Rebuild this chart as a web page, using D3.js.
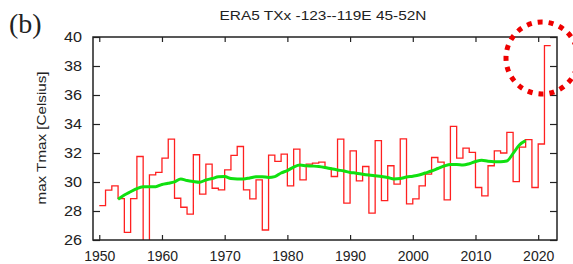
<!DOCTYPE html>
<html><head><meta charset="utf-8">
<script src="https://cdn.jsdelivr.net/npm/d3@7"></script>
<style>body{margin:0;background:#fff}svg{display:block}</style>
</head><body><svg id="c" width="573" height="264"></svg>
<script>
const title = "ERA5 TXx -123--119E 45-52N";
const yLabel = "max Tmax [Celsius]";
const panelLabel = "(b)";
const xTicks = [1950,1960,1970,1980,1990,2000,2010,2020];
const yTicks = [26,28,30,32,34,36,38,40];
const startYear = 1950;
const txx = [28.37,29.44,29.73,28.86,26.53,28.86,31.76,25.5,30.49,30.66,
  31.65,32.96,28.88,28.26,27.78,31.88,29.16,31.23,29.57,29.46,
  30.84,31.83,32.45,29.46,28.84,30.15,26.69,31.85,31.42,31.92,
  29.73,32.27,30.15,31.23,31.30,31.37,30.96,30.38,32.96,28.54,
  32.15,30.08,31.07,27.85,32.85,28.72,31.12,29.85,32.98,28.49,
  28.84,29.73,30.54,31.69,31.37,28.77,33.84,31.65,32.34,32.04,
  29.62,29.04,31.12,32.15,32.00,33.42,30.03,32.41,32.92,29.62,
  32.62,39.4];
const smoothStart = 1953;
const smooth = [28.81,29.10,29.33,29.55,29.67,29.68,29.68,29.83,29.91,30.01,
  30.21,30.10,30.03,29.98,30.14,30.24,30.36,30.38,30.24,30.21,
  30.21,30.28,30.36,30.37,30.31,30.37,30.62,30.79,31.03,31.17,
  31.12,31.10,31.07,31.00,30.91,30.83,30.76,30.66,30.61,30.54,
  30.48,30.43,30.38,30.31,30.21,30.24,30.34,30.40,30.48,30.62,
  30.76,30.93,31.10,31.21,31.21,31.17,31.26,31.41,31.50,31.43,
  31.40,31.40,31.45,31.97,32.55,32.85];

const svg = d3.select("#c");
const L=93,R=557,T=37,B=240;
const x = d3.scaleLinear().domain([1949,2023]).range([L,R]);
const y = d3.scaleLinear().domain([26,40]).range([B,T]);

svg.append("defs").append("clipPath").attr("id","clip")
  .append("rect").attr("x",L).attr("y",T).attr("width",R-L).attr("height",B-T);

const font = "'Liberation Sans', Arial, sans-serif";

function styleAxis(g){ g.select(".domain").remove(); g.selectAll("line").attr("stroke","#222").attr("stroke-width",1.2); }
svg.append("g").attr("transform",`translate(0,${B})`)
  .call(d3.axisBottom(x).tickValues(xTicks).tickFormat(d3.format("d")).tickSizeInner(-5).tickSizeOuter(0).tickPadding(10))
  .call(styleAxis)
  .call(g=>g.selectAll("text").attr("font-family",font).attr("font-size",14).attr("fill","#222").attr("y",11).attr("dy","0.71em"));
svg.append("g").attr("transform",`translate(0,${T})`)
  .call(d3.axisTop(x).tickValues(xTicks).tickFormat("").tickSizeInner(-5).tickSizeOuter(0))
  .call(styleAxis);
svg.append("g").attr("transform",`translate(${L},0)`)
  .call(d3.axisLeft(y).tickValues(yTicks).tickFormat(d3.format("d")).tickSizeInner(-7).tickSizeOuter(0))
  .call(styleAxis)
  .call(g=>g.selectAll("text").attr("font-family",font).attr("font-size",14).attr("fill","#222").attr("x",-11)
     .attr("textLength",18).attr("lengthAdjust","spacingAndGlyphs"));
svg.append("g").attr("transform",`translate(${R},0)`)
  .call(d3.axisRight(y).tickValues(yTicks).tickFormat("").tickSizeInner(-7).tickSizeOuter(0))
  .call(styleAxis);

const stepData = txx.map((v,i)=>[startYear+i,v]);
stepData.push([startYear+txx.length, txx[txx.length-1]]);
svg.append("path").datum(stepData).attr("clip-path","url(#clip)")
  .attr("fill","none").attr("stroke","#ff2020").attr("stroke-width",1.3)
  .attr("d", d3.line().x(d=>x(d[0])).y(d=>y(d[1])).curve(d3.curveStepAfter));

const smData = smooth.map((v,i)=>[smoothStart+i,v]);
svg.append("path").datum(smData)
  .attr("fill","none").attr("stroke","#10e010").attr("stroke-width",3).attr("stroke-linejoin","round")
  .attr("d", d3.line().x(d=>x(d[0])).y(d=>y(d[1])).curve(d3.curveMonotoneX));

svg.append("rect").attr("x",L).attr("y",T).attr("width",R-L).attr("height",B-T)
  .attr("fill","none").attr("stroke","#222").attr("stroke-width",1.5);

svg.append("text").attr("x",323).attr("y",20).attr("text-anchor","middle")
  .attr("font-family",font).attr("font-size",13).attr("fill","#222")
  .attr("textLength",207).attr("lengthAdjust","spacingAndGlyphs").text(title);
svg.append("text").attr("transform","translate(46,138) rotate(-90)").attr("text-anchor","middle")
  .attr("font-family",font).attr("font-size",12.5).attr("fill","#222")
  .attr("textLength",133).attr("lengthAdjust","spacingAndGlyphs").text(yLabel);
svg.append("text").attr("x",9).attr("y",33).attr("font-family","'Liberation Serif', serif")
  .attr("font-size",28).attr("fill","#222").text(panelLabel);

svg.append("circle").attr("cx",542).attr("cy",58).attr("r",36)
  .attr("fill","none").attr("stroke","#ee0000").attr("stroke-width",5).attr("stroke-dasharray","5,6");
</script></body></html>
